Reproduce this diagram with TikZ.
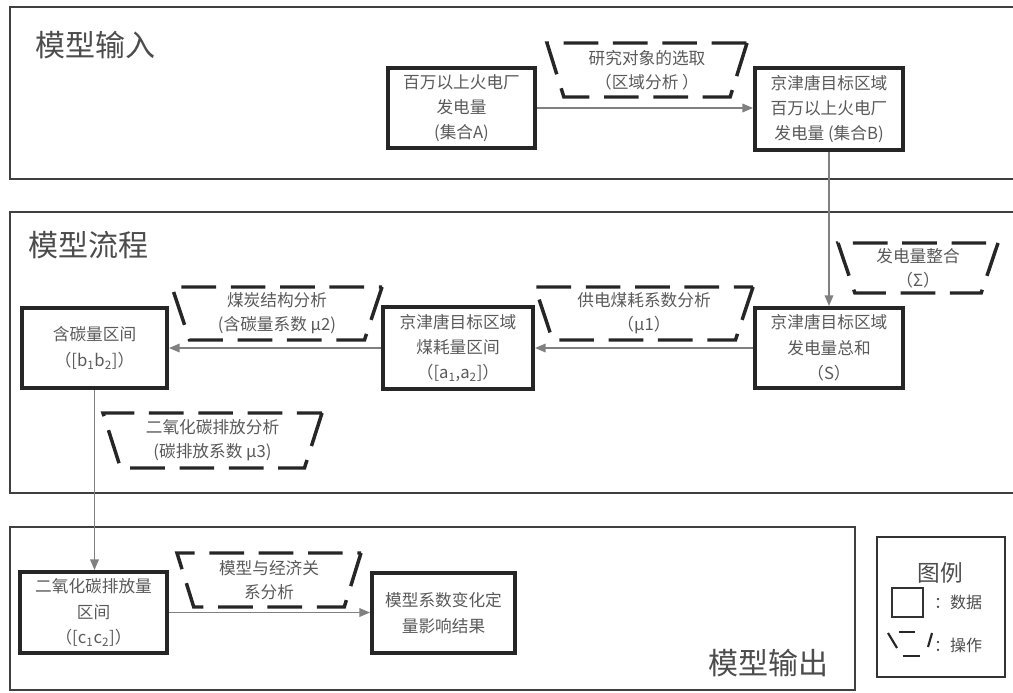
\documentclass[tikz,border=0pt]{standalone}
\usepackage{fontspec}
\setmainfont{Noto Sans CJK SC}
\usetikzlibrary{shapes.geometric,arrows.meta}
\begin{document}
\begin{tikzpicture}[x=0.75pt,y=-0.75pt,
  panel/.style={draw=black!75,line width=1.3pt},
  title/.style={font=\fontsize{22.5}{26}\selectfont,text=black!70,inner sep=0pt},
  databox/.style={draw=black!85,line width=3pt,align=center,text=black!65,font=\fontsize{12.5}{19}\selectfont,inner sep=0pt},
  opbox/.style={trapezium,shape border rotate=180,trapezium angle=67,trapezium stretches body,draw=black!85,line width=2.6pt,dash pattern=on 26pt off 11pt,align=center,text=black!65,font=\fontsize{12.5}{18}\selectfont,inner sep=0pt},
  flow/.style={draw=black!50,line width=1.1pt,-{Triangle[length=8pt,width=6.5pt]}},
  legtext/.style={text=black!70,font=\fontsize{12}{14}\selectfont,inner sep=0pt},
]
\useasboundingbox (0,0) rectangle (1013,692);
% panels
\draw[panel] (1013,7) -- (10,7) -- (10,179) -- (1013,179);
\draw[panel] (1013,212) -- (10,212) -- (10,493) -- (1013,493);
\draw[panel] (10,527) rectangle (855,690);
\node[title] (t1) at (96,45) {模型输入};
\node[title] (t2) at (88,245) {模型流程};
\node[title] (t3) at (768,663) {模型输出};

% data boxes
\node[databox,minimum width=110.25pt,minimum height=60pt] (A) at (461.5,108) {百万以上火电厂\\发电量\\(集合A)};
\node[databox,minimum width=111pt,minimum height=61.5pt] (B) at (829,109) {京津唐目标区域\\百万以上火电厂\\发电量 (集合B)};
\node[databox,minimum width=111pt,minimum height=60pt] (S) at (829,348) {京津唐目标区域\\发电量总和\\（S）};
\node[databox,minimum width=112.5pt,minimum height=61.5pt] (a) at (458,348) {京津唐目标区域\\煤耗量区间\\（[a\textsubscript{1},a\textsubscript{2}]）};
\node[databox,minimum width=108.75pt,minimum height=60pt] (b) at (94.5,348) {含碳量区间\\（[b\textsubscript{1}b\textsubscript{2}]）};
\node[databox,minimum width=110.25pt,minimum height=60.75pt] (c) at (93.5,612.5) {二氧化碳排放量\\区间\\（[c\textsubscript{1}c\textsubscript{2}]）};
\node[databox,minimum width=107.25pt,minimum height=60pt] (d) at (443.5,613) {模型系数变化定\\量影响结果};

% operation trapezia
\node[opbox,minimum width=150pt,minimum height=40.5pt] (op1) at (647,70) {研究对象的选取\\（区域分析 ）};
\node[opbox,minimum width=120pt,minimum height=37.5pt] (opS) at (918,268) {发电量整合\\（Σ）};
\node[opbox,minimum width=163.5pt,minimum height=39.75pt] (op2) at (644,313.5) {供电煤耗系数分析\\（μ1）};
\node[opbox,minimum width=157.5pt,minimum height=39.75pt] (op3) at (277,313.5) {煤炭结构分析\\(含碳量系数 μ2)};
\node[opbox,minimum width=164.25pt,minimum height=41.25pt] (op4) at (212.5,440.5) {二氧化碳排放分析\\(碳排放系数 μ3)};
\node[opbox,minimum width=138pt,minimum height=40.5pt] (op5) at (269,580) {模型与经济关\\系分析};

% connectors
\draw[flow] (A.east) -- (B.west |- A.east);
\draw[flow] (B.south) -- (S.north);
\draw[flow] (S.west) -- (a.east);
\draw[flow] (a.west) -- (b.east);
\draw[flow] (b.south) -- (b.south |- c.north);
\draw[flow] (c.east) -- (d.west |- c.east);

% legend
\node[draw=black!80,line width=1.2pt,minimum width=96pt,minimum height=105pt,inner sep=0pt] (leg) at (941,607) {};
\node[legtext,font=\fontsize{17}{20}\selectfont] (legt) at (940,573) {图例};
\node[draw=black!80,line width=1.3pt,minimum width=23.25pt,minimum height=21.75pt,inner sep=0pt] (legbox) at (907.5,602.5) {};
\node[legtext] (legdata) at (958,602) {：数据};
\draw[line width=1.6pt,draw=black!85] (888,633) -- (897,648);
\draw[line width=1.6pt,draw=black!85] (899,632) -- (915,632);
\draw[line width=1.6pt,draw=black!85] (903,656) -- (920,656);
\draw[line width=1.6pt,draw=black!85] (932,633) -- (928,647);
\node[legtext] (legop) at (958,645) {：操作};
\end{tikzpicture}
\end{document}
